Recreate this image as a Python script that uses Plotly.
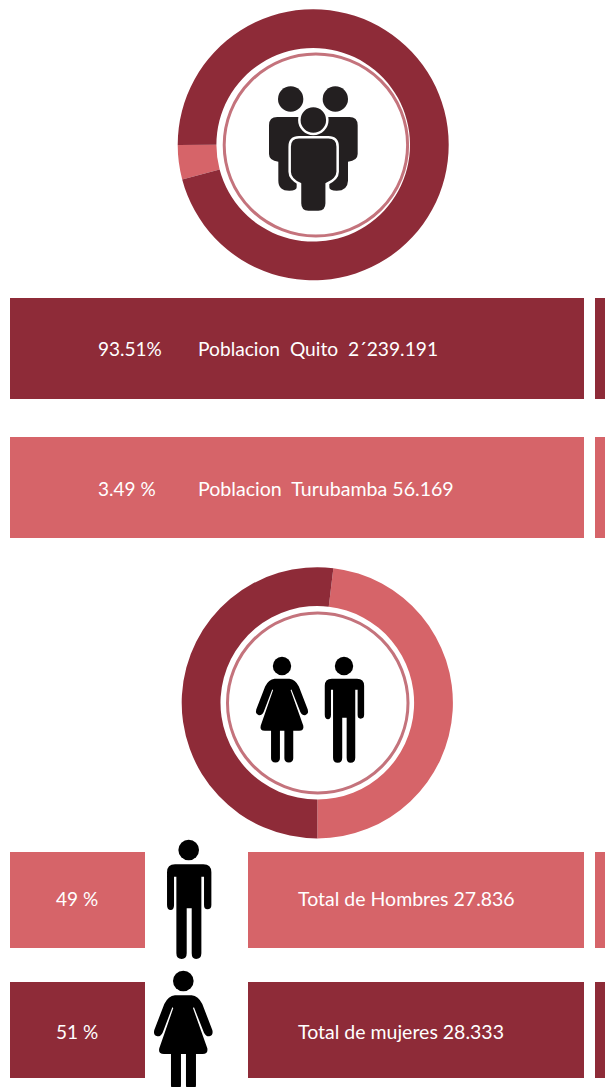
import plotly.graph_objects as go

# ---------- data ----------
city_labels = ["Poblacion Turubamba", "Poblacion Quito"]
city_shares = [4.1, 95.9]          # slice sizes as read from the ring
gender_labels = ["Hombres", "Mujeres"]
gender_shares = [48.1, 51.9]       # slice sizes as read from the ring
pct_texts = ["93.51%", "3.49 %", "49 %", "51 %"]
name_texts = ["Poblacion\u00a0\u00a0Quito\u00a0\u00a02´239.191",
              "Poblacion\u00a0\u00a0Turubamba 56.169",
              "Total de Hombres 27.836",
              "Total de mujeres 28.333"]

# ---------- style / layout ----------
W, H = 605, 1087
DARK, LIGHT, RING, INK = "#8e2b38", "#d66469", "#c4737c", "#231f20"
FONT = "Lato"
colors = [DARK, LIGHT, LIGHT, DARK]
rows = [(298, 399), (437, 538), (852, 948), (982, 1078)]
spans = [[(10, 584), (595, 605)], [(10, 584), (595, 605)],
         [(10, 145), (248, 584), (595, 605)], [(10, 145), (248, 584), (595, 605)]]
pct_x = [95.5, 95.5, 53.5, 53.5]
name_x = [196, 196, 296, 296]
name_sizes = [19.2, 19.6, 19.5, 19.5]
text_dy = [0, 1, -1.5, 1.5]

fig = go.Figure()

for (top, bot), row_spans, col in zip(rows, spans, colors):
    fig.add_trace(go.Bar(
        orientation="h",
        y=[(top + bot) / 2] * len(row_spans),
        x=[b - a for a, b in row_spans],
        base=[a for a, b in row_spans],
        width=bot - top,
        marker=dict(color=col, line=dict(width=0)),
        showlegend=False, hoverinfo="skip"))


def add_donut(cx, cy, r, labels, values, rotation, cols):
    fig.add_trace(go.Pie(
        labels=labels, values=values, hole=96.8 / r, sort=False,
        direction="clockwise", rotation=rotation, textinfo="none",
        marker=dict(colors=cols, line=dict(width=0)), showlegend=False,
        domain=dict(x=[(cx - r) / W, (cx + r) / W],
                    y=[1 - (cy + r) / H, 1 - (cy - r) / H])))


add_donut(313.2, 144.8, 135.5, city_labels, city_shares, 255.2, [LIGHT, DARK])
add_donut(317.3, 702.8, 135.6, gender_labels, gender_shares, 6.8, [LIGHT, DARK])

shapes = []


def ellipse(x0, y0, x1, y1, fill="rgba(0,0,0,0)", line=None, lw=0):
    shapes.append(dict(type="circle", xref="x", yref="y", x0=x0, y0=y0, x1=x1, y1=y1,
                       fillcolor=fill, line=dict(color=line or "rgba(0,0,0,0)", width=lw),
                       layer="above"))


def path(tokens, tx, ty, fill, line=None, lw=0):
    out = []
    is_x = True
    for t in tokens.split():
        if t.isalpha():
            out.append(t)
            is_x = t != "V"
        else:
            out.append(f"{tx(float(t)):.2f}" if is_x else f"{ty(float(t)):.2f}")
            if out[-2] == "H":
                is_x = True
            elif out[-2] == "V":
                is_x = False
            else:
                is_x = not is_x
    shapes.append(dict(type="path", xref="x", yref="y", path=" ".join(out),
                       fillcolor=fill, line=dict(color=line or "rgba(0,0,0,0)", width=lw),
                       layer="above"))


# Rings inside the donut holes
ellipse(224.2, 54.0, 407.6, 236.0, line=RING, lw=3)
ellipse(227.5, 613.0, 408.0, 793.0, line=RING, lw=3)

# Group-of-people icon (coordinates are in a 3x local frame)
gx = lambda v: 170 + v / 3
gy = lambda v: v / 3
for hx, hy in [(362, 297), (496, 297)]:
    ellipse(gx(hx - 38), gy(hy - 38), gx(hx + 38), gy(hy + 38), fill=INK)
path("M 322 351 H 538 Q 563 351 563 376 V 462 Q 563 482 534 485 V 542 Q 533 572 500 572 "
     "Q 478 572 478 562 L 478 540 L 380 540 L 380 562 Q 380 572 358 572 "
     "Q 325 572 325 542 V 485 Q 297 482 297 462 V 376 Q 297 351 322 351 Z",
     gx, gy, INK)
ellipse(gx(388), gy(318), gx(472), gy(402), fill=INK, line="white", lw=2.5)
path("M 387 412 H 475 Q 503 412 503 440 V 515 Q 503 537 470 552 V 610 Q 470 636 445 636 "
     "H 415 Q 390 636 390 610 V 552 Q 359 537 359 515 V 440 Q 359 412 387 412 Z",
     gx, gy, INK, line="white", lw=2.5)

MAN = ("M 525 103 H 610 Q 634 103 634 127 V 225 Q 634 238 622 238 Q 612 238 612 225 V 140 H 604 "
       "V 370 Q 604 387 588 387 Q 575 387 575 370 V 235 H 560 V 370 Q 560 387 545 387 "
       "Q 529 387 529 370 V 140 H 522 V 225 Q 522 240 512 240 Q 501 240 501 225 V 127 "
       "Q 501 103 525 103 Z")
WOMAN = ("M 525 496 H 575 Q 595 498 607 522 L 637 600 Q 641 615 628 619 Q 618 620 612 608 "
         "L 582 532 L 579 534 L 622 655 Q 625 672 608 672 H 588 V 765 Q 588 779 573 779 "
         "Q 558 779 558 765 V 672 H 543 V 765 Q 543 779 528 779 Q 513 779 513 765 V 672 H 492 "
         "Q 474 672 478 655 L 520 534 L 517 532 L 488 608 Q 482 620 472 619 Q 459 615 463 600 "
         "L 493 522 Q 505 498 525 496 Z")


def person(kind, head_x, head_y, s):
    pth, ox, oy = (MAN, 566, 60) if kind == "man" else (WOMAN, 550, 453)
    tx = lambda v: head_x + s * (v - ox) / 3
    ty = lambda v: head_y + s * (v - oy) / 3
    r = 31 * s / 3
    ellipse(head_x - r, head_y - r, head_x + r, head_y + r, fill="black")
    path(pth, tx, ty, "black")


person("woman", 282, 666, 0.888)
person("man", 344, 666, 0.888)
person("man", 188.7, 850, 1)
person("woman", 183.3, 981, 1)

annotations = []
for (top, bot), p, px, n, nx, ns, dy in zip(rows, pct_texts, pct_x, name_texts, name_x, name_sizes, text_dy):
    ymid = (top + bot) / 2 + dy
    for txt, x, sz in ((p, px, 19), (n, nx, ns)):
        annotations.append(dict(x=x, y=ymid, xref="x", yref="y", text=txt, showarrow=False,
                                xanchor="left", yanchor="middle",
                                font=dict(family=FONT, size=sz, color="white")))

fig.update_layout(
    width=W, height=H, margin=dict(l=0, r=0, t=0, b=0),
    paper_bgcolor="white", plot_bgcolor="white", barmode="overlay",
    xaxis=dict(range=[0, W], visible=False, fixedrange=True),
    yaxis=dict(range=[H, 0], visible=False, fixedrange=True),
    shapes=shapes, annotations=annotations, showlegend=False,
)
fig.write_html("out.html", config=dict(displayModeBar=False),
               post_script="document.body.style.margin='0';document.documentElement.style.overflow='hidden';")
